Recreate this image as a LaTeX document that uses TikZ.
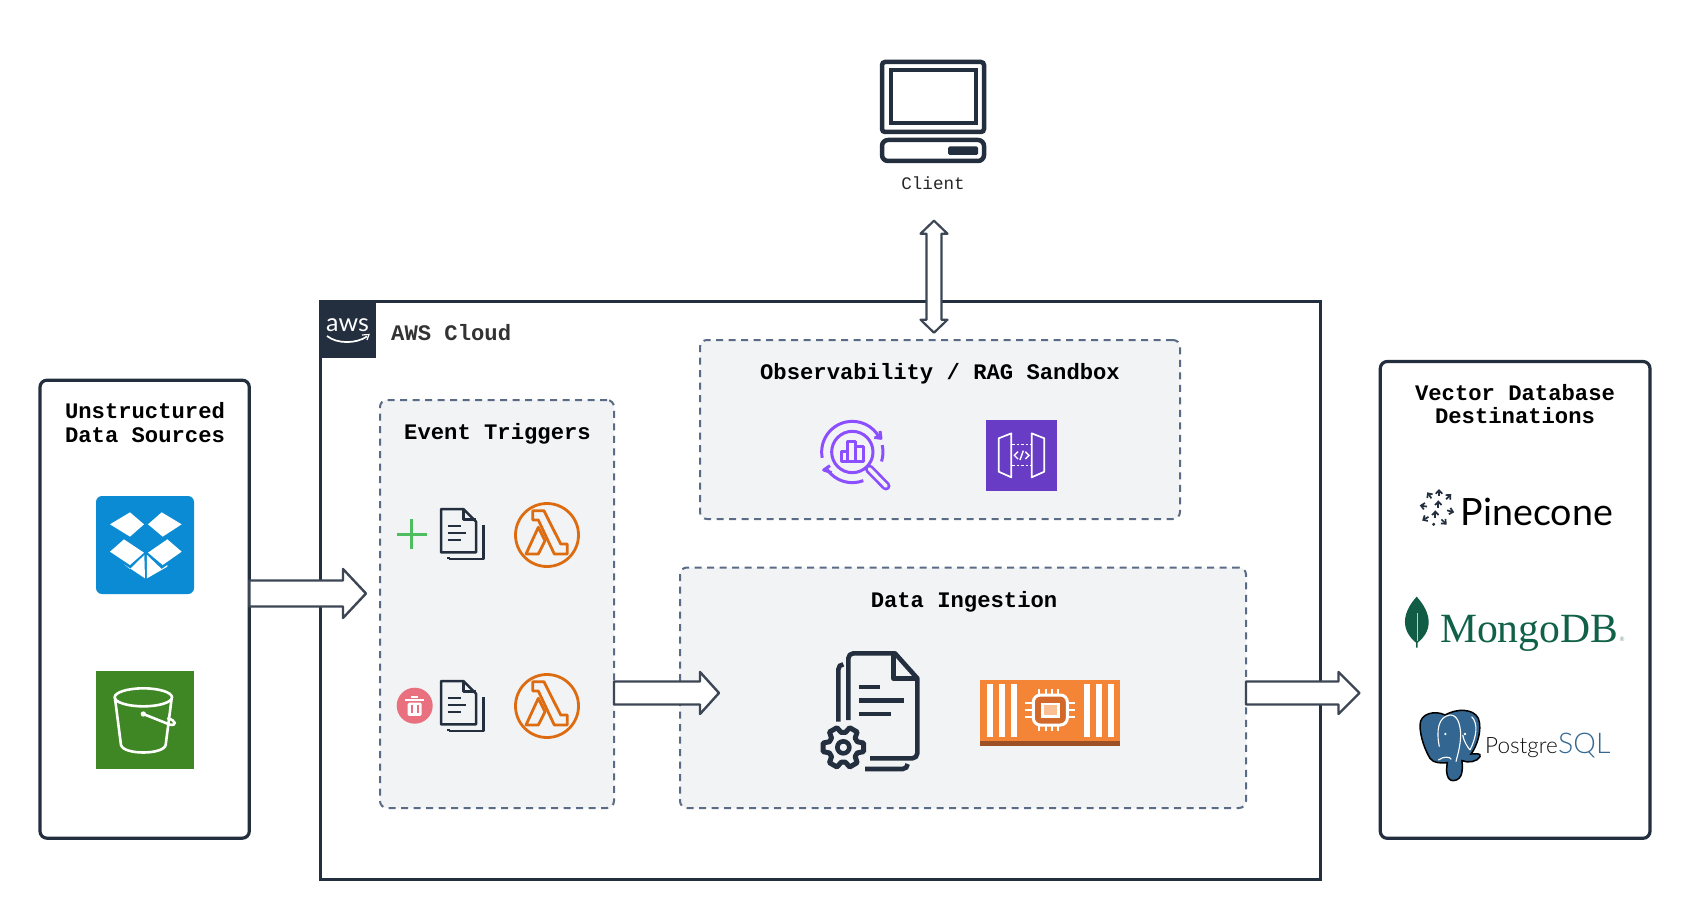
\documentclass[tikz,border=0pt]{standalone}
\usepackage{fontspec}
\setmonofont{Liberation Mono}
\newfontfamily\logofont{Lato}
\newfontfamily\thinfont{Lato Light}
\newfontfamily\mongofont{Liberation Serif}
\usepackage{xcolor}
\usetikzlibrary{positioning, arrows.meta, calc}

\definecolor{awsdark}{HTML}{232F3E}
\definecolor{groupdash}{HTML}{5A6B86}
\definecolor{groupfill}{HTML}{F2F3F5}
\definecolor{arrowgray}{HTML}{3D4654}
\definecolor{dropblue}{HTML}{0A8BD3}
\definecolor{bucketgreen}{HTML}{3F8624}
\definecolor{lambdaorange}{HTML}{DD6B10}
\definecolor{plusgreen}{HTML}{4DBD5F}
\definecolor{trashpink}{HTML}{E8707F}
\definecolor{lensviolet}{HTML}{8C4FFF}
\definecolor{apiviolet}{HTML}{693CC5}
\definecolor{chiporange}{HTML}{F58536}
\definecolor{chipbrown}{HTML}{9D5025}
\definecolor{chipcore}{HTML}{D2692A}
\definecolor{chiplight}{HTML}{FBBF93}
\definecolor{mongogreen}{HTML}{116149}
\definecolor{pgblue}{HTML}{336791}

\tikzset{
    solidbox/.style={draw=awsdark, line width=3.2pt, fill=white, rounded corners=7pt, inner sep=0pt, outer sep=0pt, anchor=north west},
    cloudbox/.style={draw=awsdark, line width=3pt, fill=white, inner sep=0pt, outer sep=0pt, anchor=north west},
    groupbox/.style={draw=groupdash, line width=2pt, fill=groupfill, dash pattern=on 7pt off 5.5pt, rounded corners=7pt, inner sep=0pt, outer sep=0pt, anchor=north west},
    boxtitle/.style={font=\ttfamily\bfseries\fontsize{22.2}{23.3}\selectfont, align=center, inner sep=0pt},
    tile/.style={inner sep=0pt, outer sep=0pt, minimum size=98pt},
    blockarrow/.style n args={3}{draw=arrowgray, fill=white, line width=2.4pt, line join=round, to path={
        let \p1=(\tikztostart), \p2=(\tikztotarget) in
        (\x1,\y1+#1) -- (\x2-#3,\y1+#1) -- (\x2-#3,\y1+#2) -- (\x2,\y1) -- (\x2-#3,\y1-#2) -- (\x2-#3,\y1-#1) -- (\x1,\y1-#1) -- cycle}},
    updownarrow/.style={draw=arrowgray, fill=white, line width=2.2pt, line join=round, to path={
        let \p1=(\tikztostart), \p2=(\tikztotarget) in
        (\x1,\y1) -- (\x1+13.5pt,\y1-13pt) -- (\x1+7.5pt,\y1-13pt) -- (\x1+7.5pt,\y2+13pt) -- (\x1+13.5pt,\y2+13pt) -- (\x1,\y2) -- (\x1-13.5pt,\y2+13pt) -- (\x1-7.5pt,\y2+13pt) -- (\x1-7.5pt,\y1-13pt) -- (\x1-13.5pt,\y1-13pt) -- cycle}},
    zoomed/.style={x=0.33333pt, y=-0.33333pt},
    iconline/.style={draw=awsdark, line width=2.5pt, line join=round},
    pics/docstack/.style={code={
        \begin{scope}[zoomed]
            \draw[iconline, fill=groupfill] (213,357) -- (280,357) -- (318,395) -- (318,487) -- (213,487) -- cycle;
            \draw[iconline] (280,357) -- (280,388) -- (318,388);
            \draw[iconline] (236,507) -- (341,507) -- (341,405) (236,507) -- (236,500);
            \draw[iconline] (233,408) -- (272,408) (233,429) -- (288,429) (233,450) -- (272,450);
        \end{scope}}},
    pics/lambdamark/.style={code={
        \draw[draw=lambdaorange, line width=2.8pt, fill=groupfill] (0,0) circle (31.5);
        \draw[draw=lambdaorange, line width=2.8pt, line join=round] (-14.3,-24.3) -- (-3,-24.3) -- (13.7,9) -- (20.3,9) -- (20.3,19) -- (7.3,19) -- (-8.7,-15) -- (-14.3,-15) -- cycle;
        \draw[draw=lambdaorange, line width=2.8pt, line join=round] (-8.7,-7.7) -- (-2,5.7) -- (-8.7,19) -- (-21,19) -- cycle;}}
}

\begin{document}
\begin{tikzpicture}[x=1pt, y=-1pt]
        \useasboundingbox (0,0) rectangle (1690,920);
        \fill[white] (0,0) rectangle (1690,920);

        % Outer boxes
        \node[solidbox, minimum width=209.3pt, minimum height=458pt] (srcBox) at (40,380.2) {};
        \node[solidbox, minimum width=269.7pt, minimum height=476.8pt] (dbBox) at (1380.3,361.5) {};
        \node[cloudbox, minimum width=1000.5pt, minimum height=578pt] (cloudBox) at (320,301.5) {};

        % Dashed groups
        \node[groupbox, minimum width=234pt, minimum height=408pt] (eventBox) at (380,400) {};
        \node[groupbox, minimum width=480pt, minimum height=179pt] (sandboxBox) at (700,340) {};
        \node[groupbox, minimum width=566pt, minimum height=240.5pt] (ingestBox) at (680,567.5) {};

        % Titles
        \node[boxtitle] (srcTitle) at (145,422.5) {Unstructured\\Data Sources};
        \node[boxtitle] (dbTitle) at (1515,404) {Vector Database\\Destinations};
        \node[boxtitle] (eventTitle) at (497.5,433.5) {Event Triggers};
        \node[boxtitle] (sandboxTitle) at (940,373.5) {Observability / RAG Sandbox};
        \node[boxtitle] (ingestTitle) at (964,601.5) {Data Ingestion};

        % AWS badge
        \node[inner sep=0pt, outer sep=0pt, minimum size=57.5pt, fill=awsdark, anchor=north west] (awsBadge) at (318.5,300) {};
        \node[anchor=base, text=white, inner sep=0pt, font=\logofont\fontsize{25}{25}\selectfont] (awsWord) at (347.5,331) {aws};
        \draw[white, line width=1.7pt] (327,336) .. controls (337,344) and (356,344) .. (367,336.5);
        \draw[white, line width=1.2pt] (362,335) -- (369,334.5) -- (367,340);
        \node[anchor=west, inner sep=0pt, text=black!80, font=\ttfamily\bfseries\fontsize{22.2}{22}\selectfont] (cloudTitle) at (391,332.5) {AWS Cloud};

        % Client
        \draw[awsdark, line width=4.5pt, rounded corners=3pt] (882,62) rectangle (984,132);
        \draw[awsdark, line width=4.5pt] (891,70) rectangle (976,123);
        \draw[awsdark, line width=4.5pt, rounded corners=6pt] (882,140) rectangle (984,161);
        \fill[awsdark, rounded corners=1.5pt] (948,146.5) rectangle (978,155);
        \node[inner sep=0pt, text=black!85, font=\ttfamily\fontsize{17.6}{18}\selectfont] (clientLabel) at (933,183) {Client};

        % Dropbox
        \node[tile, fill=dropblue, rounded corners=6pt] (dropboxTile) at (145,545) {};
        \begin{scope}[shift={(20,370)}, zoomed]
            \fill[white] (270,463) -- (330,427) -- (372,463) -- (330,500) -- cycle;
            \fill[white] (384,463) -- (425,427) -- (485,463) -- (428,500) -- cycle;
            \fill[white] (270,545) -- (312,508) -- (372,548) -- (330,585) -- cycle;
            \fill[white] (384,548) -- (442,508) -- (485,545) -- (428,585) -- cycle;
            \fill[white] (312,583) -- (330,597) -- (373,555) -- (375,625) -- cycle;
            \fill[white] (381,555) -- (425,597) -- (442,585) -- (442,590) -- (381,625) -- cycle;
        \end{scope}

        % Bucket
        \node[tile, fill=bucketgreen] (bucketTile) at (145,720) {};
        \begin{scope}[shift={(20,370)}, zoomed]
            \draw[white, line width=2.6pt] (370,982) ellipse [x radius=86, y radius=27];
            \draw[white, line width=2.6pt] (285,985) -- (303,1125) .. controls (310,1155) and (430,1155) .. (437,1125) -- (455,985);
            \fill[white] (370,1032) circle (8);
            \draw[white, line width=2.6pt] (370,1032) -- (450,1064) .. controls (470,1068) and (470,1052) .. (442,1044);
        \end{scope}

        % Create trigger
        \node[inner sep=0pt, minimum size=1pt] (plusMark) at (411.7,534) {};
        \draw[plusgreen, line width=3pt] (396.7,534) -- (426.7,534) (411.7,519) -- (411.7,549);
        \pic (createDoc) at (370,390) {docstack};
        \pic (createFn) at (547,535) {lambdamark};

        % Delete trigger
        \node[circle, fill=trashpink, inner sep=0pt, minimum size=36pt] (trashMark) at (414.7,705.7) {};
        \begin{scope}[shift={(370,390)}, zoomed]
            \draw[white, line width=2pt] (105,930) -- (163,930) (124,921) -- (144,921);
            \fill[white, rounded corners=1.5pt] (113,938) rectangle (155,978);
            \draw[trashpink, line width=1.8pt] (125,946) -- (125,970) (143,946) -- (143,970);
        \end{scope}
        \pic (deleteDoc) at (370,562) {docstack};
        \pic (deleteFn) at (547,706) {lambdamark};

        % Lens with chart
        \begin{scope}[shift={(690,330)}, zoomed]
            \draw[lensviolet, line width=9pt, line cap=round] (538,417) -- (588,468);
            \draw[groupfill, line width=3.6pt, line cap=round] (538,417) -- (588,468);
            \draw[lensviolet, line width=3pt, fill=groupfill] (487,366) circle (62);
            \draw[lensviolet, line width=3pt, line join=round] (455,395) -- (455,365) -- (473,365) -- (473,335) -- (497,335) -- (497,350) -- (520,350) -- (520,395) -- cycle (473,365) -- (473,395) (497,350) -- (497,395);
            \draw[lensviolet, line width=3pt] ($(487,366)+(169:92)$) arc [start angle=169, end angle=332, radius=92];
            \draw[lensviolet, line width=3pt] ($(487,366)+(-13:92)$) arc [start angle=-13, end angle=18, radius=92];
            \draw[lensviolet, line width=3pt] ($(487,366)+(69:92)$) arc [start angle=69, end angle=145, radius=92];
            \draw[lensviolet, line width=3pt, line join=round] (553,322) -- (573,325) -- (570,303);
            \draw[lensviolet, line width=3pt, line join=round] (420,407) -- (401,420) -- (425,428);
        \end{scope}

        % API tile
        \node[inner sep=0pt, outer sep=0pt, minimum size=71pt, fill=apiviolet] (apiTile) at (1021.5,455.5) {};
        \begin{scope}[shift={(690,330)}, zoomed]
            \draw[white, line width=1.7pt, line join=round] (926,325) -- (964,310) -- (964,442) -- (926,425) -- cycle;
            \draw[white, line width=1.7pt, line join=round] (1025,310) -- (1063,325) -- (1063,425) -- (1025,442) -- cycle;
            \draw[white, line width=1.5pt, dash pattern=on 2.5pt off 2pt] (966,344) -- (1023,344) (966,407) -- (1023,407);
            \draw[white, line width=1.4pt] (984,365) -- (973,376) -- (984,387) (1006,365) -- (1017,376) -- (1006,387) (1000,362) -- (990,390);
        \end{scope}

        % Document with gear
        \begin{scope}[shift={(780,630)}, zoomed]
            \draw[awsdark, line width=4.6pt, line join=round] (205,270) -- (205,85) arc [start angle=180, end angle=270, radius=15] -- (345,70) -- (412,145) -- (412,370) arc [start angle=0, end angle=90, radius=15] -- (270,385);
            \draw[awsdark, line width=4.6pt, line join=round] (340,75) -- (340,145) -- (412,145);
            \draw[awsdark, line width=4.6pt] (175,275) -- (175,118) arc [start angle=180, end angle=270, radius=15];
            \draw[awsdark, line width=4.6pt] (255,417) -- (368,417) arc [start angle=90, end angle=0, radius=15];
            \draw[awsdark, line width=4.6pt] (237,171) -- (300,171) (237,211) -- (372,211) (237,252) -- (332,252);
            \begin{scope}[shift={(190,352)}]
                \draw[awsdark, line width=5pt, line join=round] (-22:45) \foreach \a in {0,60,...,300} { -- (\a-22:45) -- (\a-12:62) -- (\a+12:62) -- (\a+22:45) } -- cycle;
                \draw[awsdark, line width=4.6pt] (0,0) circle (18);
            \end{scope}
        \end{scope}

        % Chip tile
        \node[inner sep=0pt, outer sep=0pt, minimum width=140pt, minimum height=66pt, fill=chiporange] (chipTile) at (1050,713) {};
        \fill[chipbrown] (980,740.7) rectangle (1120,746);
        \begin{scope}[shift={(780,630)}, zoomed]
            \foreach \sx in {620,656,692,912,948,984} {
                \fill[white] (\sx,162) rectangle (\sx+18,320);
            }
            \foreach \px in {778,797,816,835} {
                \draw[white, line width=2.2pt] (\px,178) -- (\px,198) (\px,282) -- (\px,302);
            }
            \foreach \py in {220,240,260} {
                \draw[white, line width=2.2pt] (735,\py) -- (760,\py) (862,\py) -- (885,\py);
            }
            \draw[white, line width=3pt, fill=chipcore, rounded corners=7pt] (760,195) rectangle (862,285);
            \draw[white, line width=2.4pt, fill=chiplight] (787,222) rectangle (835,260);
        \end{scope}

        % Pinecone
        \begin{scope}[shift={(1370,350)}, zoomed]
            \foreach \ax/\ay/\ar in {207/428/270, 178/436/235, 236/440/315, 160/468/190, 205/462/270, 242/484/15, 166/506/150, 196/492/270, 222/516/45} {
                \draw[awsdark, line width=1.7pt, -{Straight Barb[length=3.5pt, width=6.5pt]}] ($(\ax,\ay)+(\ar+180:11)$) -- ($(\ax,\ay)+(\ar:11)$);
            }
            \fill[awsdark] (191,523) circle (5);
        \end{scope}
        \node[anchor=base west, inner sep=0pt, text=black, font=\logofont\fontsize{37.6}{38}\selectfont] (pineWord) at (1460.5,525) {Pinecone};

        % MongoDB
        \begin{scope}[shift={(1370,350)}, zoomed]
            \fill[mongogreen!95!black] (140,740) .. controls (185,790) and (190,840) .. (143,878) -- (143,893) -- (138,893) -- (138,878) .. controls (92,840) and (95,790) .. (140,740) -- cycle;
            \draw[white!70!mongogreen, line width=0.8pt] (141,790) -- (141,872);
        \end{scope}
        \node[anchor=base west, inner sep=0pt, text=mongogreen, font=\mongofont\fontsize{41.6}{42}\selectfont] (mongoWord) at (1440,642.5) {MongoDB};
        \node[anchor=base west, inner sep=0pt, text=mongogreen!60, font=\logofont\fontsize{6}{6}\selectfont] (mongoMark) at (1619.5,641.5) {®};

        % PostgreSQL
        \begin{scope}[shift={(1370,350)}, zoomed]
            \draw[fill=pgblue, draw=black, line width=1.5pt] (150,1125) .. controls (150,1090) and (195,1080) .. (225,1095) .. controls (260,1075) and (310,1075) .. (325,1105) .. controls (338,1140) and (320,1190) .. (303,1212) .. controls (315,1212) and (335,1208) .. (330,1220) .. controls (322,1235) and (295,1240) .. (276,1232) .. controls (278,1255) and (280,1290) .. (250,1292) .. controls (228,1292) and (228,1260) .. (232,1238) .. controls (215,1240) and (190,1240) .. (180,1225) .. controls (165,1200) and (150,1160) .. (150,1125) -- cycle;
            \draw[white, line width=1.1pt] (208,1190) .. controls (198,1140) and (205,1100) .. (240,1095) .. controls (262,1095) and (270,1120) .. (272,1150) .. controls (272,1190) and (262,1215) .. (258,1235);
            \draw[white, line width=1.1pt] (300,1200) .. controls (320,1160) and (325,1120) .. (305,1100);
            \draw[white, line width=1.1pt] (278,1155) .. controls (282,1175) and (292,1190) .. (300,1200);
            \draw[white, line width=1.1pt] (205,1230) .. controls (222,1218) and (240,1220) .. (244,1228);
            \fill[white] (226,1152) circle (4) (285,1152) circle (4);
        \end{scope}
        \node[anchor=base west, inner sep=0pt, text=black!95, font=\thinfont\fontsize{22.5}{23}\selectfont] (pgWord) at (1485,753) {Postgre};
        \node[anchor=base west, inner sep=0pt, text=pgblue, font=\thinfont\fontsize{28.5}{29}\selectfont] (sqlWord) at (1558,753) {SQL};

        % Block arrows
        \coordinate (srcTip) at (366,593.5);
        \coordinate (eventTip) at (719,693);
        \coordinate (ingestTip) at (1359.5,693);
        \coordinate (clientEnd) at (934,220.7);
        \coordinate (sandboxEnd) at (934,332.7);
        \draw[blockarrow={13pt}{24.5pt}{23pt}] (srcBox.east |- srcTip) to (srcTip);
        \draw[blockarrow={11.5pt}{21pt}{19pt}] (eventBox.east |- eventTip) to (eventTip);
        \draw[blockarrow={11.5pt}{21pt}{21pt}] (ingestBox.east |- ingestTip) to (ingestTip);
        \draw[updownarrow] (clientEnd) to (sandboxEnd);
    \end{tikzpicture}
\end{document}
